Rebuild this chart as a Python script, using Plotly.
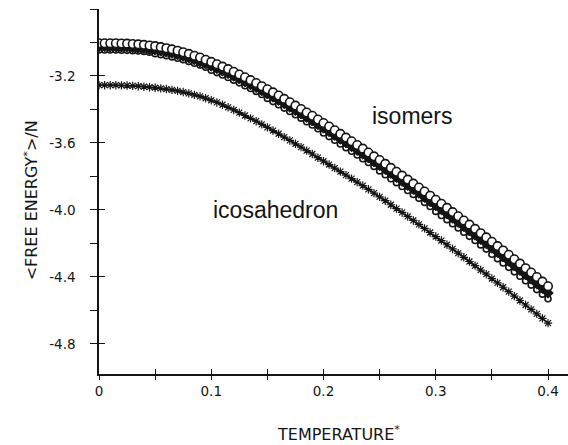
import plotly.graph_objects as go

# Temperature* (x values)
temperature = [0.000, 0.005, 0.010, 0.015, 0.020, 0.025, 0.030, 0.035, 0.040, 0.045,
               0.050, 0.055, 0.060, 0.065, 0.070, 0.075, 0.080, 0.085, 0.090, 0.095,
               0.100, 0.105, 0.110, 0.115, 0.120, 0.125, 0.130, 0.135, 0.140, 0.145,
               0.150, 0.155, 0.160, 0.165, 0.170, 0.175, 0.180, 0.185, 0.190, 0.195,
               0.200, 0.205, 0.210, 0.215, 0.220, 0.225, 0.230, 0.235, 0.240, 0.245,
               0.250, 0.255, 0.260, 0.265, 0.270, 0.275, 0.280, 0.285, 0.290, 0.295,
               0.300, 0.305, 0.310, 0.315, 0.320, 0.325, 0.330, 0.335, 0.340, 0.345,
               0.350, 0.355, 0.360, 0.365, 0.370, 0.375, 0.380, 0.385, 0.390, 0.395,
               0.400]

# isomer A (open circles, top)
isomer_a = [-3.005, -3.005, -3.005, -3.005, -3.006, -3.007, -3.009, -3.011, -3.014, -3.018,
            -3.022, -3.028, -3.034, -3.041, -3.049, -3.058, -3.068, -3.079, -3.090, -3.103,
            -3.116, -3.130, -3.144, -3.159, -3.175, -3.191, -3.208, -3.225, -3.242, -3.261,
            -3.279, -3.298, -3.317, -3.337, -3.357, -3.377, -3.397, -3.418, -3.438, -3.460,
            -3.481, -3.502, -3.524, -3.546, -3.568, -3.590, -3.612, -3.634, -3.657, -3.680,
            -3.702, -3.725, -3.749, -3.772, -3.795, -3.819, -3.843, -3.866, -3.890, -3.915,
            -3.939, -3.963, -3.988, -4.013, -4.038, -4.063, -4.088, -4.113, -4.139, -4.164,
            -4.190, -4.216, -4.242, -4.268, -4.295, -4.321, -4.348, -4.374, -4.401, -4.428,
            -4.456]

# isomer B (just below circles)
isomer_b = [-3.025, -3.025, -3.026, -3.026, -3.027, -3.028, -3.031, -3.033, -3.036, -3.040,
            -3.045, -3.051, -3.057, -3.064, -3.073, -3.082, -3.092, -3.103, -3.115, -3.128,
            -3.141, -3.155, -3.170, -3.185, -3.201, -3.217, -3.235, -3.252, -3.269, -3.288,
            -3.307, -3.326, -3.345, -3.365, -3.386, -3.406, -3.426, -3.447, -3.468, -3.490,
            -3.511, -3.532, -3.555, -3.577, -3.599, -3.621, -3.644, -3.666, -3.689, -3.712,
            -3.735, -3.758, -3.782, -3.805, -3.829, -3.853, -3.877, -3.900, -3.925, -3.950,
            -3.974, -3.998, -4.024, -4.049, -4.074, -4.099, -4.125, -4.150, -4.176, -4.201,
            -4.228, -4.254, -4.280, -4.306, -4.334, -4.360, -4.387, -4.413, -4.441, -4.468,
            -4.496]

# isomer C (lowest of the isomer band)
isomer_c = [-3.045, -3.045, -3.045, -3.045, -3.046, -3.047, -3.049, -3.051, -3.054, -3.058,
            -3.067, -3.073, -3.079, -3.086, -3.094, -3.103, -3.113, -3.124, -3.135, -3.148,
            -3.166, -3.180, -3.194, -3.209, -3.225, -3.241, -3.258, -3.275, -3.292, -3.311,
            -3.334, -3.353, -3.372, -3.392, -3.412, -3.432, -3.452, -3.473, -3.493, -3.515,
            -3.541, -3.562, -3.584, -3.606, -3.628, -3.650, -3.672, -3.694, -3.717, -3.740,
            -3.767, -3.790, -3.814, -3.837, -3.860, -3.884, -3.908, -3.931, -3.955, -3.980,
            -4.009, -4.033, -4.058, -4.083, -4.108, -4.133, -4.158, -4.183, -4.209, -4.234,
            -4.265, -4.291, -4.317, -4.343, -4.370, -4.396, -4.423, -4.449, -4.476, -4.503,
            -4.531]

# icosahedron
icosahedron = [-3.255, -3.255, -3.255, -3.255, -3.256, -3.257, -3.259, -3.261, -3.264, -3.267,
               -3.270, -3.274, -3.278, -3.283, -3.289, -3.296, -3.304, -3.313, -3.322, -3.333,
               -3.345, -3.358, -3.372, -3.387, -3.403, -3.419, -3.436, -3.453, -3.470, -3.489,
               -3.507, -3.526, -3.545, -3.565, -3.585, -3.605, -3.625, -3.646, -3.666, -3.688,
               -3.709, -3.729, -3.750, -3.771, -3.792, -3.813, -3.834, -3.855, -3.877, -3.900,
               -3.922, -3.945, -3.969, -3.992, -4.015, -4.039, -4.063, -4.086, -4.110, -4.135,
               -4.159, -4.183, -4.208, -4.233, -4.258, -4.283, -4.308, -4.333, -4.359, -4.384,
               -4.410, -4.436, -4.462, -4.488, -4.515, -4.541, -4.568, -4.594, -4.621, -4.648,
               -4.676]

x_tickvals = [0, 0.05, 0.1, 0.15, 0.2, 0.25, 0.3, 0.35, 0.4]
x_ticktext = ["0", " ", "0.1", " ", "0.2", " ", "0.3", " ", "0.4"]
y_tickvals = [-2.8, -3.0, -3.2, -3.4, -3.6, -3.8, -4.0, -4.2, -4.4, -4.6, -4.8]
y_ticktext = [" ", " ", "-3.2", " ", "-3.6", " ", "-4.0", " ", "-4.4", " ", "-4.8"]
y_major = [-3.2, -3.6, -4.0, -4.4, -4.8]

INK = "#141414"
TICKFONT = dict(family="DejaVu Sans", size=13.5, color=INK)
TITLEFONT = dict(family="DejaVu Sans", size=16, color=INK)
LABELFONT = dict(family="Liberation Sans", size=23, color=INK)

fig = go.Figure()

fig.add_trace(go.Scatter(
    x=temperature, y=isomer_c, mode="markers",
    marker=dict(symbol="circle-open", size=6, color=INK, line=dict(color=INK, width=1.6)),
    showlegend=False))
fig.add_trace(go.Scatter(
    x=temperature, y=isomer_b, mode="markers",
    marker=dict(symbol="diamond", size=8, color=INK, line=dict(color=INK, width=1.0)),
    showlegend=False))
fig.add_trace(go.Scatter(
    x=temperature, y=isomer_a, mode="markers",
    marker=dict(symbol="circle", size=8.5, color="white", line=dict(color=INK, width=1.6)),
    showlegend=False))
fig.add_trace(go.Scatter(
    x=temperature, y=icosahedron, mode="lines+markers",
    line=dict(color=INK, width=1.6),
    marker=dict(symbol="asterisk-open", size=7, color=INK, line=dict(color=INK, width=1.2)),
    showlegend=False))
# helper trace for the overlay axes (inside tick halves)
fig.add_trace(go.Scatter(x=[], y=[], xaxis="x2", yaxis="y2", showlegend=False,
                         hoverinfo="skip"))

X_RANGE = [0, 0.4178]
Y_RANGE = [-4.98, -2.8]

fig.update_layout(
    width=568, height=445,
    margin=dict(l=99, r=0, t=9, b=71),
    paper_bgcolor="white", plot_bgcolor="white",
    xaxis=dict(range=X_RANGE, showgrid=False, zeroline=False,
               showline=True, linecolor=INK, linewidth=1.5,
               ticks="outside", ticklen=4, tickwidth=1.3, tickcolor=INK,
               tickvals=x_tickvals, ticktext=x_ticktext, tickfont=TICKFONT,
               ticklabelstandoff=0),
    yaxis=dict(range=Y_RANGE, showgrid=False, zeroline=False,
               showline=True, linecolor=INK, linewidth=1.5,
               ticks="outside", ticklen=7, tickwidth=1.3, tickcolor=INK,
               tickvals=y_tickvals, ticktext=y_ticktext, tickfont=TICKFONT,
               ticklabelstandoff=12),
    xaxis2=dict(range=X_RANGE, overlaying="x", anchor="y2", side="bottom",
                showgrid=False, zeroline=False, showline=False,
                ticks="inside", ticklen=5, tickwidth=1.3, tickcolor=INK,
                tickvals=x_tickvals, showticklabels=False),
    yaxis2=dict(range=Y_RANGE, overlaying="y", anchor="x2", side="left",
                showgrid=False, zeroline=False, showline=False,
                ticks="inside", ticklen=6, tickwidth=1.3, tickcolor=INK,
                tickvals=y_major, showticklabels=False),
    annotations=[
        dict(text="isomers", x=0.279, y=-3.44, xref="x", yref="y",
             xanchor="center", yanchor="middle", showarrow=False, font=LABELFONT),
        dict(text="icosahedron", x=0.157, y=-4.0, xref="x", yref="y",
             xanchor="center", yanchor="middle", showarrow=False, font=LABELFONT),
        dict(text="TEMPERATURE<sup>*</sup>", x=0.51, y=-0.163, xref="paper", yref="paper",
             xanchor="center", yanchor="middle", showarrow=False, font=TITLEFONT),
        dict(text="&lt;FREE ENERGY<sup>*</sup>&gt;/N", x=-0.144, y=0.477,
             xref="paper", yref="paper", xanchor="center", yanchor="middle",
             textangle=-90, showarrow=False, font=TITLEFONT),
    ],
)

fig.write_html("out.html")
